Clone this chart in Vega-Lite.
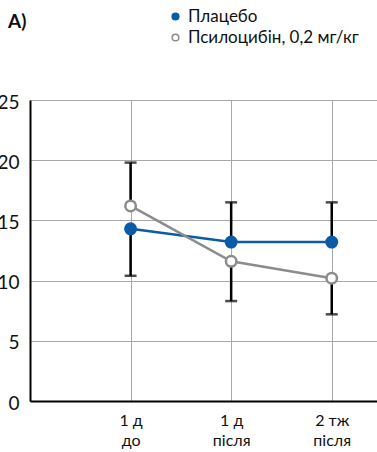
{
  "$schema": "https://vega.github.io/schema/vega-lite/v6.json",
  "width": 347,
  "height": 301,
  "autosize": {"type": "none"},
  "padding": {"left": 30, "top": 100, "right": 0, "bottom": 51},
  "title": {
    "text": "А)",
    "anchor": "start",
    "frame": "group",
    "dx": -22,
    "offset": -24,
    "fontSize": 19,
    "fontWeight": "bold",
    "font": "Lato",
    "color": "#111111"
  },
  "config": {
    "view": {"stroke": null},
    "font": "Lato",
    "legend": {"symbolType": "circle"}
  },
  "data": {
    "values": [
      {"group": "Плацебо", "t": 1, "value": 14.3, "whisker": 10.4},
      {"group": "Плацебо", "t": 2, "value": 13.2, "whisker": 16.5},
      {"group": "Плацебо", "t": 3, "value": 13.2, "whisker": 16.5},
      {"group": "Псилоцибін, 0,2 мг/кг", "t": 1, "value": 16.2, "whisker": 19.8},
      {"group": "Псилоцибін, 0,2 мг/кг", "t": 2, "value": 11.6, "whisker": 8.3},
      {"group": "Псилоцибін, 0,2 мг/кг", "t": 3, "value": 10.2, "whisker": 7.2}
    ]
  },
  "encoding": {
    "x": {
      "field": "t",
      "type": "quantitative",
      "scale": {"domain": [0, 3.45], "nice": false, "zero": false},
      "axis": {
        "title": null,
        "values": [1, 2, 3],
        "ticks": false,
        "grid": true,
        "gridColor": "#a8a8a8",
        "gridWidth": 1,
        "gridOpacity": 1,
        "domainColor": "#000000",
        "domainWidth": 2,
        "labelFontSize": 16,
        "labelColor": "#111111",
        "labelPadding": 11,
        "labelLineHeight": 20,
        "labelExpr": "datum.value == 1 ? ['1 д', 'до'] : datum.value == 2 ? ['1 д', 'після'] : ['2 тж', 'після']"
      }
    },
    "y": {
      "field": "value",
      "type": "quantitative",
      "scale": {"domain": [0, 25], "nice": false},
      "axis": {
        "title": null,
        "values": [0, 5, 10, 15, 20, 25],
        "ticks": false,
        "grid": true,
        "gridColor": "#a8a8a8",
        "gridWidth": 1,
        "gridOpacity": 1,
        "domainColor": "#000000",
        "domainWidth": 2,
        "labelFontSize": 19,
        "labelColor": "#111111",
        "labelPadding": 11,
        "labelOffset": 2
      }
    }
  },
  "layer": [
    {
      "mark": {"type": "rule", "color": "#000000", "strokeWidth": 2.5},
      "encoding": {"y2": {"field": "whisker"}}
    },
    {
      "mark": {"type": "tick", "orient": "horizontal", "color": "#000000", "size": 12, "thickness": 2.5},
      "encoding": {"y": {"field": "whisker", "type": "quantitative"}}
    },
    {
      "mark": {"type": "line", "strokeWidth": 2.5},
      "encoding": {
        "stroke": {
          "field": "group",
          "type": "nominal",
          "scale": {"domain": ["Плацебо", "Псилоцибін, 0,2 мг/кг"], "range": ["#0b5ca6", "#8c8c8c"]},
          "legend": {
            "title": null,
            "orient": "none",
            "legendX": 137,
            "legendY": -92,
            "labelFontSize": 17,
            "labelColor": "#111111",
            "labelOffset": 4,
            "labelLimit": 400,
            "rowPadding": 3,
            "symbolSize": 45,
            "symbolStrokeWidth": 1.5
          }
        }
      }
    },
    {
      "mark": {"type": "point", "shape": "circle", "size": 110, "strokeWidth": 2.5, "opacity": 1},
      "encoding": {
        "stroke": {"field": "group", "type": "nominal"},
        "fill": {
          "field": "group",
          "type": "nominal",
          "scale": {"domain": ["Плацебо", "Псилоцибін, 0,2 мг/кг"], "range": ["#0b5ca6", "#ffffff"]}
        }
      }
    }
  ]
}
